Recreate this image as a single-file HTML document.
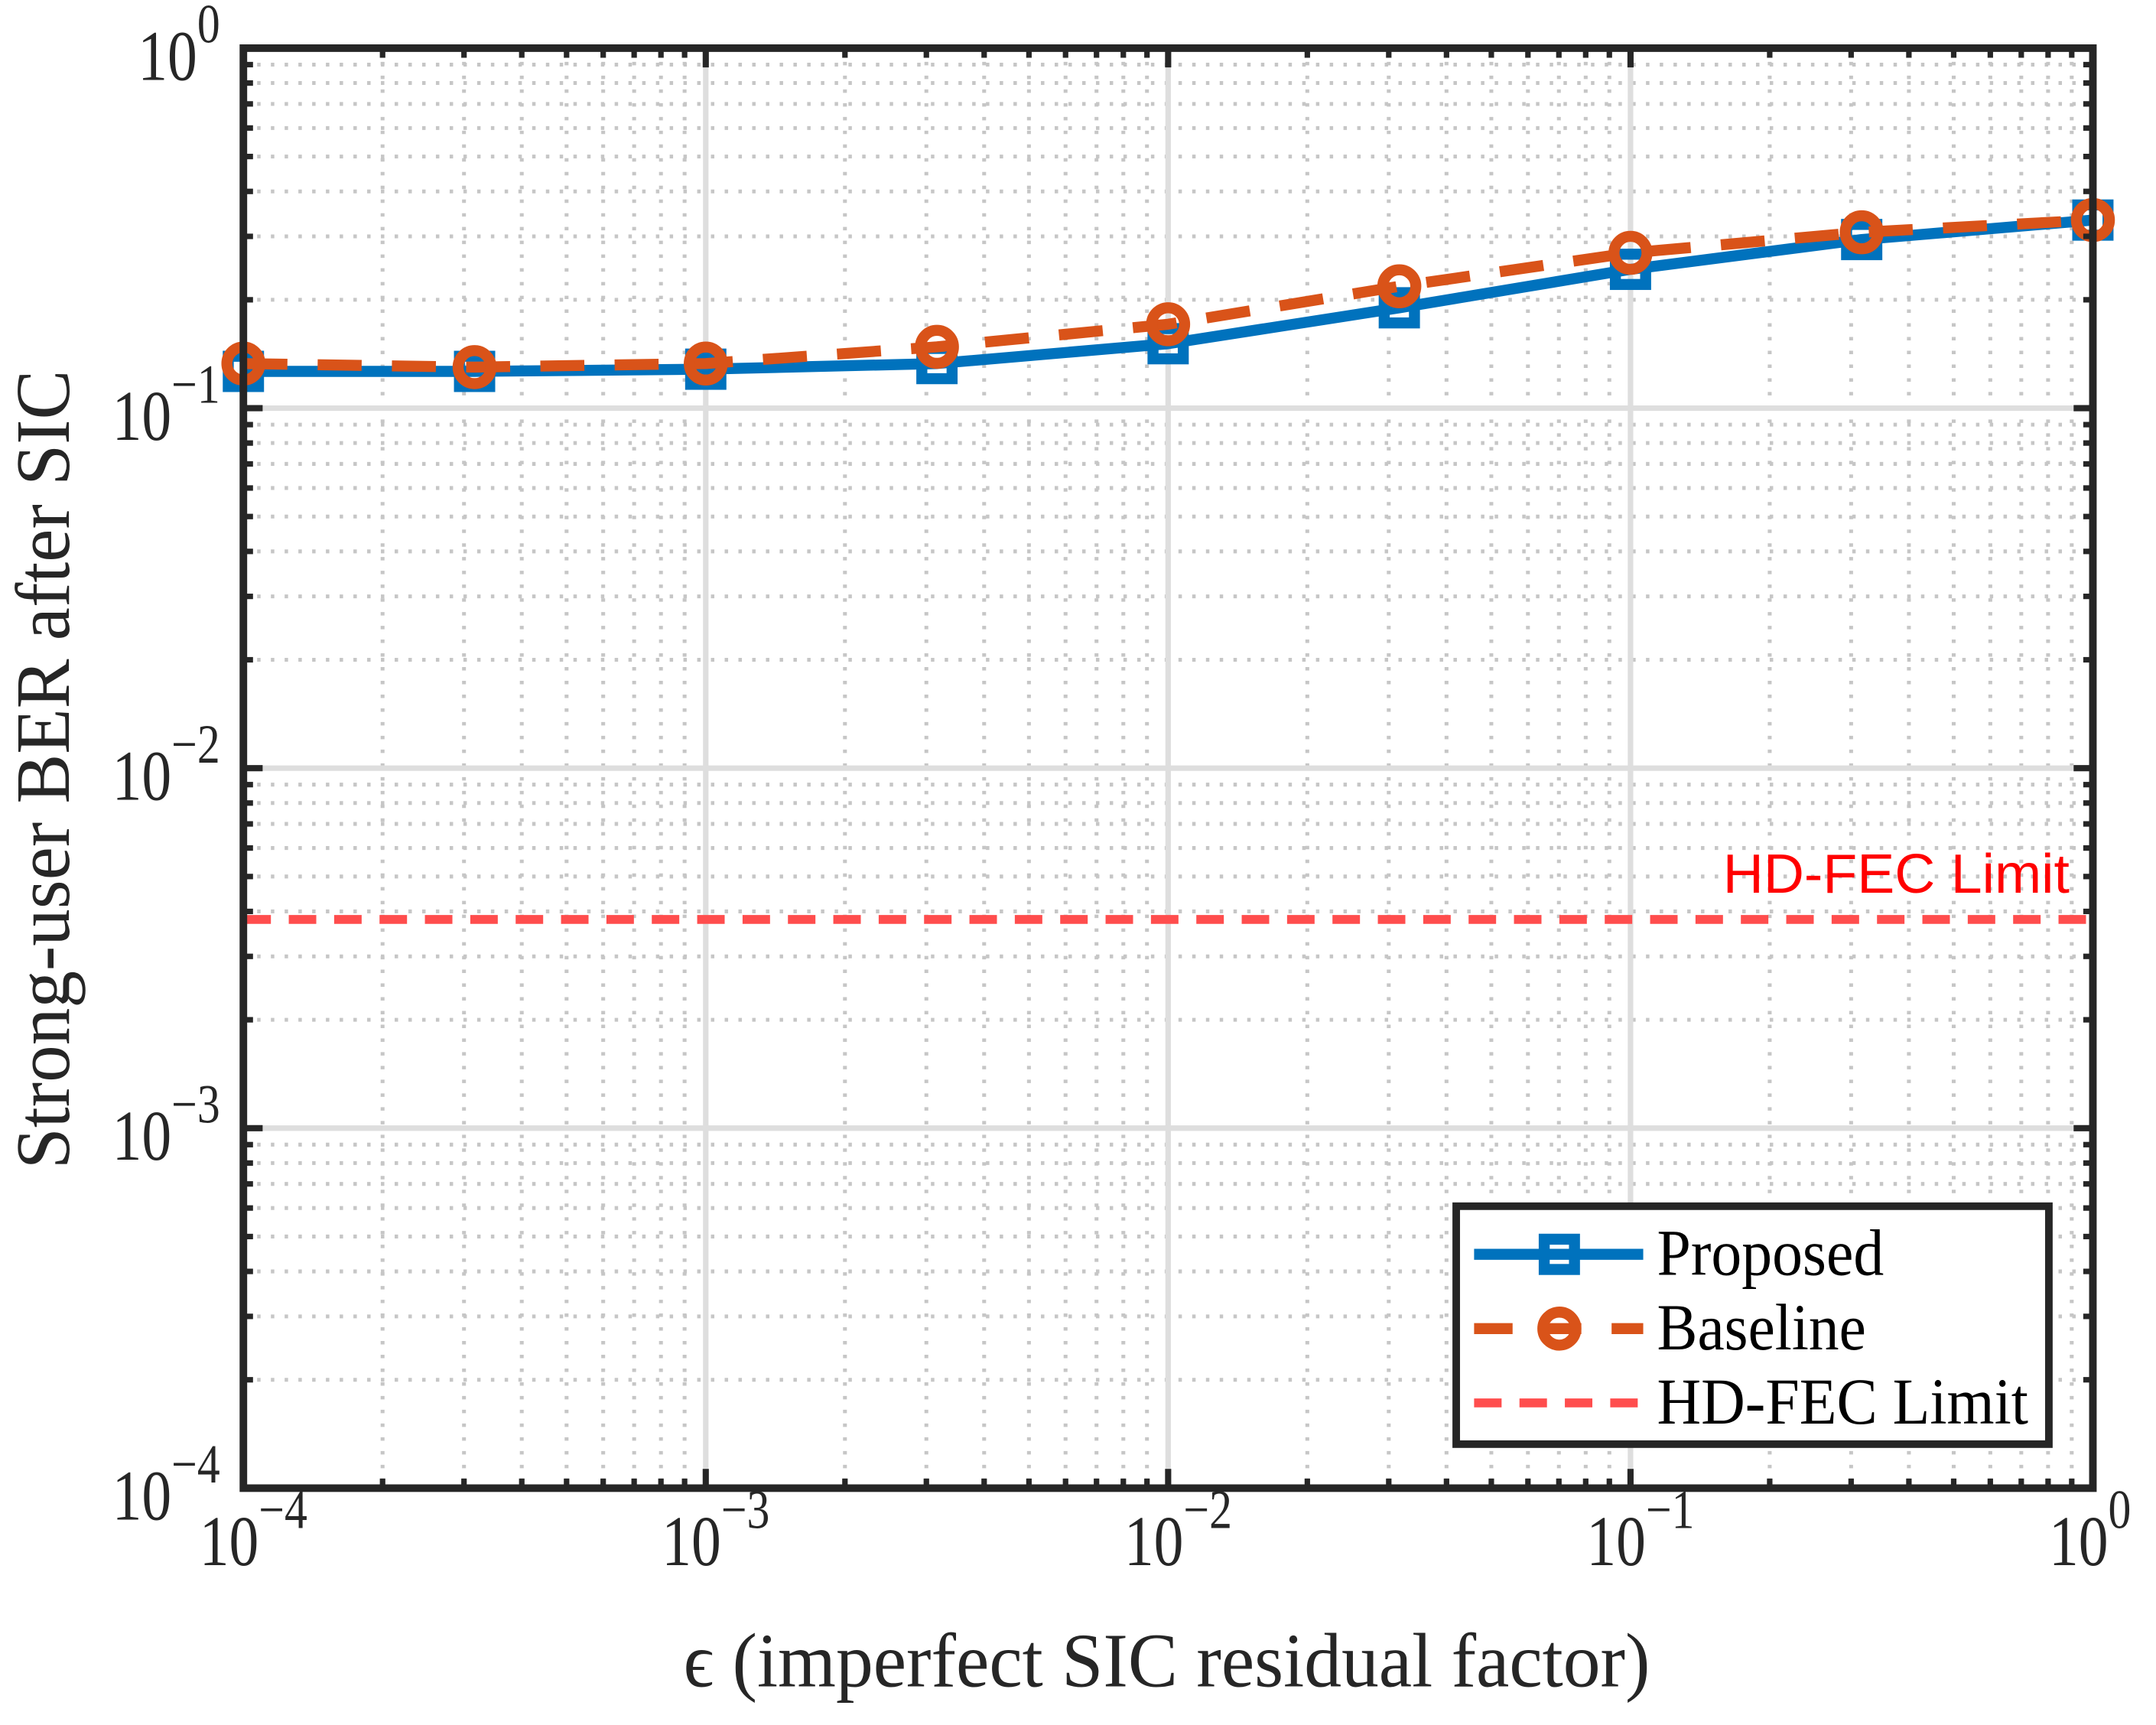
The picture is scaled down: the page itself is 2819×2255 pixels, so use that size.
<!DOCTYPE html>
<html><head><meta charset="utf-8">
<style>
html,body{margin:0;padding:0;background:#fff;}
svg{display:block;}
text{font-family:"Liberation Serif",serif;fill:#262626;}
</style></head>
<body>
<svg id="chart" xmlns="http://www.w3.org/2000/svg" width="2819" height="2255" viewBox="0 0 1567.9 1254.2">
<rect x="0" y="0" width="1567.9" height="1254.2" fill="#fff"/>
<g id="grid"></g>
<g id="series"></g>
<g id="axes"></g>
<text x="1253" y="649" font-size="40" textLength="252" lengthAdjust="spacingAndGlyphs" style="font-family:'Liberation Sans',sans-serif;fill:#ff0000">HD-FEC Limit</text>
<text x="497" y="1226" font-size="56" textLength="703" lengthAdjust="spacingAndGlyphs">ϵ (imperfect SIC residual factor)</text>
<text transform="translate(50,850) rotate(-90)" font-size="56" textLength="581" lengthAdjust="spacingAndGlyphs">Strong-user BER after SIC</text>
<g id="legend"></g>
</svg>
<script>
const xValues = [1e-4, 3.1623e-4, 1e-3, 3.1623e-3, 1e-2, 3.1623e-2, 0.1, 0.31623, 1];
const proposedBER = [0.1265, 0.1265, 0.1283, 0.133, 0.151, 0.190, 0.243, 0.294, 0.333];
const baselineBER = [0.133, 0.130, 0.133, 0.148, 0.171, 0.218, 0.270, 0.308, 0.333];
const hdFecLimit = 3.8e-3;
const xTickExps = [-4, -3, -2, -1, 0];
const yTickExps = [0, -1, -2, -3, -4];

const L=177, R=1522, T=35, B=1082;
const NS="http://www.w3.org/2000/svg";
function X(v){return L+(Math.log10(v)+4)/4*(R-L);}
function Y(v){return T+(-Math.log10(v))/4*(B-T);}
function mk(tag,attrs,parent){const e=document.createElementNS(NS,tag);for(const k in attrs)e.setAttribute(k,attrs[k]);parent.appendChild(e);return e;}
const grid=document.getElementById('grid'), axes=document.getElementById('axes'), series=document.getElementById('series'), legend=document.getElementById('legend');
const AX='#262626';

for(let d=-4; d<0; d++){
  for(let m=2;m<=9;m++){
    const v=m*Math.pow(10,d);
    let g=mk('line',{x1:X(v),x2:X(v),y1:T,y2:B,stroke:'#c6c6c6','stroke-width':2.8,'stroke-dasharray':'2.5 7.5'},grid);
    
    
    g=mk('line',{x1:L,x2:R,y1:Y(v),y2:Y(v),stroke:'#c6c6c6','stroke-width':2.8,'stroke-dasharray':'2.5 7.5'},grid);
    
    
    mk('line',{x1:X(v),x2:X(v),y1:B,y2:B-7,stroke:AX,'stroke-width':4},axes);
    mk('line',{x1:X(v),x2:X(v),y1:T,y2:T+7,stroke:AX,'stroke-width':4},axes);
    mk('line',{x1:L,x2:L+7,y1:Y(v),y2:Y(v),stroke:AX,'stroke-width':4},axes);
    mk('line',{x1:R,x2:R-7,y1:Y(v),y2:Y(v),stroke:AX,'stroke-width':4},axes);
  }
}
function tickLabel(x,y,e,anchor,name){
  const t=mk('text',{transform:'translate('+x+','+y+') scale(0.83,1)','text-anchor':anchor,'font-size':52},axes);
  
  
  t.innerHTML='10<tspan dy="-27" font-size="40">'+(e<0?'−'+(-e):e)+'</tspan>';
}
xTickExps.forEach(e=>{
  const x=X(Math.pow(10,e));
  if(e>-4&&e<0){
    let g=mk('line',{x1:x,x2:x,y1:T,y2:B,stroke:'#dedede','stroke-width':4},grid);
    
    
  }
  mk('line',{x1:x,x2:x,y1:B,y2:B-14,stroke:AX,'stroke-width':4.5},axes);
  mk('line',{x1:x,x2:x,y1:T,y2:T+14,stroke:AX,'stroke-width':4.5},axes);
  tickLabel(x-32,1138,e,'start','x-tick-label');
});
yTickExps.forEach(e=>{
  const y=Y(Math.pow(10,e));
  if(e<0&&e>-4){
    let g=mk('line',{x1:L,x2:R,y1:y,y2:y,stroke:'#dedede','stroke-width':4},grid);
    
    
  }
  mk('line',{x1:L,x2:L+14,y1:y,y2:y,stroke:AX,'stroke-width':4.5},axes);
  mk('line',{x1:R,x2:R-14,y1:y,y2:y,stroke:AX,'stroke-width':4.5},axes);
  tickLabel(160,y+23,e,'end','y-tick-label');
});
const frame=mk('rect',{x:L,y:T,width:R-L,height:B-T,fill:'none',stroke:AX,'stroke-width':5.5},axes);



const hd=mk('line',{x1:L,x2:R,y1:Y(hdFecLimit),y2:Y(hdFecLimit),stroke:'#ff4d4d','stroke-width':6.5,'stroke-dasharray':'20 13'},series);



const pp=xValues.map((x,i)=>X(x)+','+Y(proposedBER[i])).join(' ');
const pl=mk('polyline',{points:pp,fill:'none',stroke:'#0072bd','stroke-width':8,'stroke-linejoin':'round'},series);


xValues.forEach((x,i)=>{
  const s=mk('rect',{x:X(x)-11,y:Y(proposedBER[i])-11,width:22,height:22,fill:'none',stroke:'#0072bd','stroke-width':8},series);
  
  
});
const bp=xValues.map((x,i)=>X(x)+','+Y(baselineBER[i])).join(' ');
const bl=mk('polyline',{points:bp,fill:'none',stroke:'#d95319','stroke-width':8,'stroke-dasharray':'32 22'},series);


xValues.forEach((x,i)=>{
  const c=mk('circle',{cx:X(x),cy:Y(baselineBER[i]),r:12,fill:'none',stroke:'#d95319','stroke-width':8},series);
  
  
});

const lb=mk('rect',{x:1059,y:877,width:431,height:173,fill:'#fff',stroke:AX,'stroke-width':5.5},legend);


const entries=[['Proposed',912,165],['Baseline',966,152],['HD-FEC Limit',1020,270]];
entries.forEach((en,i)=>{
  const y=en[1];
  let ln;
  if(i===0){
    ln=mk('line',{x1:1072,x2:1195,y1:y,y2:y,stroke:'#0072bd','stroke-width':8},legend);
    mk('rect',{x:1123,y:y-11,width:22,height:22,fill:'none',stroke:'#0072bd','stroke-width':8},legend);
  }else if(i===1){
    ln=mk('line',{x1:1072,x2:1195,y1:y,y2:y,stroke:'#d95319','stroke-width':8,'stroke-dasharray':'28 22'},legend);
    mk('circle',{cx:1134,cy:y,r:12,fill:'none',stroke:'#d95319','stroke-width':8},legend);
  }else{
    ln=mk('line',{x1:1072,x2:1195,y1:y,y2:y,stroke:'#ff4d4d','stroke-width':6.5,'stroke-dasharray':'20 13'},legend);
  }
  
  
  const t=mk('text',{x:1205,y:y+15,'font-size':48,textLength:en[2],lengthAdjust:'spacingAndGlyphs'},legend);
  
  
  t.style.fill='#000';
  t.textContent=en[0];
});
</script>
</body></html>
